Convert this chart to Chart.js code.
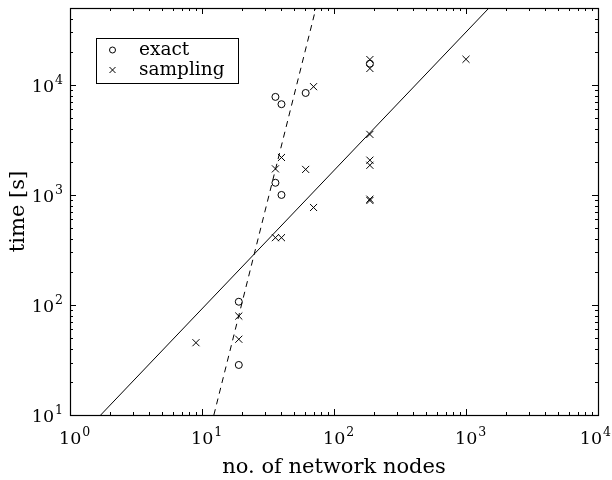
<!DOCTYPE html>
<html>
<head>
<meta charset="utf-8">
<script src="https://cdn.jsdelivr.net/npm/chart.js@4.4.0/dist/chart.umd.min.js"></script>
<style>
  html, body { margin: 0; padding: 0; background: #fff; }
  #wrap { width: 612px; height: 480px; }
</style>
</head>
<body>
<div id="wrap"><canvas id="myChart" width="612" height="480"></canvas></div>
<script>
// dados
const exactNodes = [19, 19, 36, 36, 40, 40, 61, 187];
const exactTime = [107, 28.5, 1290, 7780, 1000, 6680, 8450, 15600];

const samplingNodes = [9, 19, 19, 36, 36, 40, 40, 61, 70, 70, 187, 187, 187, 187, 187, 187, 187, 1000];
const samplingTime = [45.4, 79.3, 48.8, 409, 1726, 409, 2190, 1706, 769, 9640, 17000, 14100, 3550, 2070, 1860, 890, 915, 17100];

// retas de ajuste (extremos)
const fitSolidNodes = [1.708, 1493];
const fitSolidTime = [10, 50000];
const fitDashedNodes = [12.3, 73];
const fitDashedTime = [10, 50000];

const xTicks = [1, 10, 100, 1000, 10000];
const yTicks = [10, 100, 1000, 10000];
const xLabel = 'no. of network nodes';
const yLabel = 'time [s]';

const FONT = '"DejaVu Serif", serif';

function toPoints(xs, ys) {
    return xs.map(function (x, i) { return { x: x, y: ys[i] }; });
}

// desenha "10^n"
function powerLabel(ctx, exp, left, y) {
    ctx.textAlign = 'left';
    ctx.textBaseline = 'alphabetic';
    ctx.font = '17.5px ' + FONT;
    const base = ctx.measureText('10').width;
    ctx.fillText('10', left, y);
    ctx.font = '12.5px ' + FONT;
    ctx.fillText(String(exp), left + base + 1, y - 8);
}

function powerWidth(ctx, exp) {
    ctx.font = '17.5px ' + FONT;
    const base = ctx.measureText('10').width;
    ctx.font = '12.5px ' + FONT;
    return base + 1 + ctx.measureText(String(exp)).width;
}

const framePlugin = {
    id: 'frame',
    afterDatasetsDraw(chart) {
        const ctx = chart.ctx;
        const a = chart.chartArea;
        const xs = chart.scales.x;
        const ys = chart.scales.y;
        ctx.save();
        ctx.strokeStyle = '#000';
        ctx.fillStyle = '#000';
        ctx.lineWidth = 1.2;

        // moldura
        ctx.strokeRect(Math.round(a.left) + 0.5, Math.round(a.top) + 0.5,
            Math.round(a.right - a.left), Math.round(a.bottom - a.top));

        // ticks para dentro nos quatro lados
        ctx.lineWidth = 1;
        ctx.beginPath();
        for (let d = 1; d <= 10000; d *= 10) {
            for (let k = 1; k <= 9; k++) {
                const v = k * d;
                if (v < xs.min || v > xs.max) continue;
                const px = Math.round(xs.getPixelForValue(v)) + 0.5;
                const len = k === 1 ? 6 : 3;
                ctx.moveTo(px, a.bottom); ctx.lineTo(px, a.bottom - len);
                ctx.moveTo(px, a.top); ctx.lineTo(px, a.top + len);
            }
        }
        for (let d = 10; d <= 10000; d *= 10) {
            for (let k = 1; k <= 9; k++) {
                const v = k * d;
                if (v < ys.min || v > ys.max) continue;
                const py = Math.round(ys.getPixelForValue(v)) + 0.5;
                const len = k === 1 ? 6 : 3;
                ctx.moveTo(a.left, py); ctx.lineTo(a.left + len, py);
                ctx.moveTo(a.right, py); ctx.lineTo(a.right - len, py);
            }
        }
        ctx.stroke();

        // rotulos dos ticks
        xTicks.forEach(function (v) {
            const px = xs.getPixelForValue(v);
            const e = Math.round(Math.log10(v));
            // o ultimo rotulo fica dentro da figura
            const left = Math.min(px - 11, chart.width - 1 - powerWidth(ctx, e));
            powerLabel(ctx, e, left, a.bottom + 29);
        });
        yTicks.forEach(function (v) {
            const py = ys.getPixelForValue(v);
            const e = Math.round(Math.log10(v));
            powerLabel(ctx, e, a.left - 7 - powerWidth(ctx, e), py + 7);
        });

        // titulos dos eixos
        ctx.font = '21px ' + FONT;
        ctx.textAlign = 'center';
        ctx.textBaseline = 'alphabetic';
        ctx.fillText(xLabel, (a.left + a.right) / 2, 473);
        ctx.save();
        ctx.translate(24, (a.top + a.bottom) / 2);
        ctx.rotate(-Math.PI / 2);
        ctx.fillText(yLabel, 0, 0);
        ctx.restore();

        // legenda
        ctx.lineWidth = 1;
        ctx.fillStyle = '#fff';
        ctx.fillRect(96.5, 38.5, 142, 45);
        ctx.strokeRect(96.5, 38.5, 142, 45);
        ctx.fillStyle = '#000';
        const sets = chart.data.datasets.slice(0, 2);
        sets.forEach(function (ds, i) {
            const my = 50 + i * 20;
            ctx.beginPath();
            if (ds.pointStyle === 'circle') {
                ctx.arc(112.5, my, 3, 0, Math.PI * 2);
            } else {
                ctx.moveTo(109.5, my - 3); ctx.lineTo(115.5, my + 3);
                ctx.moveTo(115.5, my - 3); ctx.lineTo(109.5, my + 3);
            }
            ctx.stroke();
            ctx.font = '18.5px ' + FONT;
            ctx.textAlign = 'left';
            ctx.fillText(ds.label, 139, my + 5);
        });
        ctx.restore();
    }
};

const chart = new Chart(document.getElementById('myChart').getContext('2d'), {
    type: 'scatter',
    data: {
        datasets: [{
            label: 'exact',
            data: toPoints(exactNodes, exactTime),
            pointStyle: 'circle',
            pointRadius: 3.5,
            borderColor: '#000',
            backgroundColor: 'rgba(0,0,0,0)',
            borderWidth: 1
        }, {
            label: 'sampling',
            data: toPoints(samplingNodes, samplingTime),
            pointStyle: 'crossRot',
            pointRadius: 5,
            borderColor: '#000',
            backgroundColor: '#000',
            borderWidth: 1
        }, {
            label: 'fit solid',
            data: toPoints(fitSolidNodes, fitSolidTime),
            showLine: true,
            pointRadius: 0,
            borderColor: '#000',
            borderWidth: 1
        }, {
            label: 'fit dashed',
            data: toPoints(fitDashedNodes, fitDashedTime),
            showLine: true,
            pointRadius: 0,
            borderColor: '#000',
            borderWidth: 1,
            borderDash: [6, 5]
        }]
    },
    options: {
        responsive: false,
        animation: false,
        devicePixelRatio: 1,
        layout: { padding: { left: 70, right: 14, top: 8, bottom: 65 } },
        plugins: {
            legend: { display: false },
            tooltip: { enabled: false }
        },
        scales: {
            x: { type: 'logarithmic', min: 1, max: 10000, display: false },
            y: { type: 'logarithmic', min: 10, max: 50000, display: false }
        }
    },
    plugins: [framePlugin]
});
</script>
</body>
</html>
